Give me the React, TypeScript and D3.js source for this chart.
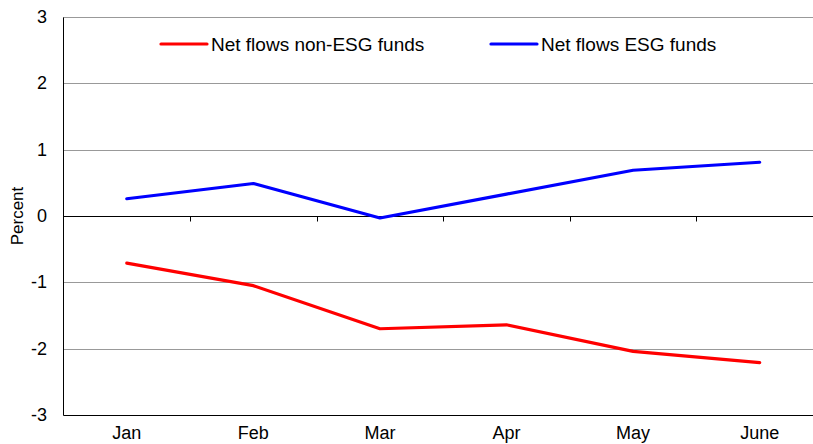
import { useEffect, useRef } from "react";
import * as d3 from "d3";

const months = ["Jan", "Feb", "Mar", "Apr", "May", "June"];
const nonEsg = [-0.71, -1.05, -1.7, -1.64, -2.04, -2.21];
const esg = [0.26, 0.49, -0.03, 0.33, 0.69, 0.81];
const yTicks = [3, 2, 1, 0, -1, -2, -3];

const W = 813;
const H = 444;
const m = { left: 63.5, right: -10, top: 17, bottom: 29 };
const font = "'Liberation Sans', Arial, sans-serif";

const App = () => {
  const ref = useRef<SVGSVGElement>(null);

  useEffect(() => {
    const svg = d3.select(ref.current);
    svg.selectAll("*").remove();

    const x = d3.scaleBand().domain(months).range([m.left, W - m.right]);
    const y = d3.scaleLinear().domain([-3, 3]).range([H - m.bottom, m.top]);
    const cx = (d: string) => (x(d) ?? 0) + x.bandwidth() / 2;
    const py = (v: number) => Math.round(y(v)) + 0.5;

    // grid lines (dotted)
    svg.append("g")
      .selectAll("line")
      .data(yTicks.filter(t => t !== 0 && t !== -3))
      .enter().append("line")
      .attr("x1", m.left).attr("x2", W)
      .attr("y1", d => py(d)).attr("y2", d => py(d))
      .attr("stroke", "#333").attr("stroke-width", 1)
      .attr("stroke-dasharray", "1,1");

    // bottom and zero lines
    svg.append("line")
      .attr("x1", m.left).attr("x2", W)
      .attr("y1", py(-3)).attr("y2", py(-3))
      .attr("stroke", "#000");
    svg.append("line")
      .attr("x1", m.left).attr("x2", W)
      .attr("y1", py(0)).attr("y2", py(0))
      .attr("stroke", "#000");

    // ticks on zero line at category boundaries
    svg.append("g")
      .selectAll("line")
      .data(months.slice(1))
      .enter().append("line")
      .attr("x1", d => Math.round(x(d) ?? 0) + 0.5).attr("x2", d => Math.round(x(d) ?? 0) + 0.5)
      .attr("y1", py(0)).attr("y2", py(0) + 5)
      .attr("stroke", "#000");

    // left axis
    svg.append("line")
      .attr("x1", m.left).attr("x2", m.left)
      .attr("y1", py(3)).attr("y2", py(-3))
      .attr("stroke", "#000");

    svg.append("g")
      .selectAll("text")
      .data(yTicks)
      .enter().append("text")
      .attr("x", 47).attr("y", d => y(d) + 6)
      .attr("text-anchor", "end")
      .attr("font-family", font).attr("font-size", 18)
      .text(d => d);

    svg.append("text")
      .attr("transform", `translate(23,${y(0)}) rotate(-90)`)
      .attr("text-anchor", "middle")
      .attr("font-family", font).attr("font-size", 17)
      .text("Percent");

    svg.append("g")
      .selectAll("text")
      .data(months)
      .enter().append("text")
      .attr("x", d => cx(d)).attr("y", H - 5)
      .attr("text-anchor", "middle")
      .attr("font-family", font).attr("font-size", 18)
      .text(d => d);

    const line = d3.line<number>()
      .x((_, i) => cx(months[i]))
      .y(d => y(d));

    svg.append("path").datum(nonEsg)
      .attr("d", line).attr("fill", "none")
      .attr("stroke", "#ff0000").attr("stroke-width", 3.2)
      .attr("stroke-linecap", "round").attr("stroke-linejoin", "round");
    svg.append("path").datum(esg)
      .attr("d", line).attr("fill", "none")
      .attr("stroke", "#0000ff").attr("stroke-width", 3.2)
      .attr("stroke-linecap", "round").attr("stroke-linejoin", "round");

    // legend
    const legend = [
      { label: "Net flows non-ESG funds", color: "#ff0000", x: 161 },
      { label: "Net flows ESG funds", color: "#0000ff", x: 491 },
    ];
    const lg = svg.append("g");
    legend.forEach(l => {
      lg.append("line")
        .attr("x1", l.x).attr("x2", l.x + 46)
        .attr("y1", 44).attr("y2", 44)
        .attr("stroke", l.color).attr("stroke-width", 3.2)
        .attr("stroke-linecap", "round");
      lg.append("text")
        .attr("x", l.x + 50).attr("y", 51)
        .attr("font-family", font).attr("font-size", 19)
        .text(l.label);
    });
  }, []);

  return (
    <svg ref={ref} width={W} height={H}
      style={{ position: "absolute", left: 0, top: 0, background: "#fff" }} />
  );
};

export default App;
